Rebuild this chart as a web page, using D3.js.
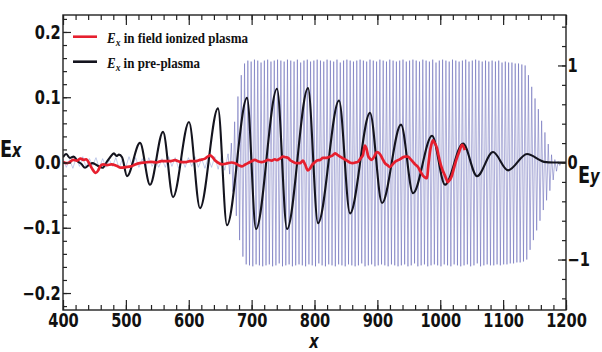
<!DOCTYPE html>
<html><head><meta charset="utf-8">
<script src="https://cdn.jsdelivr.net/npm/d3@7"></script>
<style>body{margin:0;background:#fff}svg{display:block}</style>
</head><body><svg id="c" width="602" height="352"></svg>
<script>
// ---------- data ----------
const xTicks = [400, 500, 600, 700, 800, 900, 1000, 1100, 1200];
const xTickLabels = ["400", "500", "600", "700", "800", "900", "1000", "1100", "1200"];
const exTicks = [-0.2, -0.1, 0.0, 0.1, 0.2];
const exTickLabels = ["\u22120.2", "\u22120.1", "0.0", "0.1", "0.2"];
const eyTicks = [-1, 0, 1];
const eyTickLabels = ["\u22121", "0", "1"];
const seriesNames = ["field ionized plasma", "pre-plasma"];

// Ey (right axis) ahead of the pulse: small noise extrema, from x = 400 every 5.25
const eyPreX0 = 400, eyPreStep = 5.25;
const eyPreValues = [
  0.04,-0.05,0.03,-0.06,0.05,-0.04,0.06,-0.05,0.04,-0.03,
  0.05,-0.06,0.04,-0.05,0.03,-0.04,0.05,-0.06,0.04,-0.05,
  0.06,-0.04,0.05,-0.05,0.04,-0.06,0.05,-0.04,0.03,-0.05,
  0.04,-0.05,0.06,-0.04,0.05,-0.06,0.04,-0.05,0.05,-0.04,
  0.06,-0.05,0.04,-0.06,0.05,-0.05,0.06,-0.07,0.07,-0.08,
  0.09
];
// Ey laser pulse: half-cycle extrema, from x = 662.5 every 2.625
const eyX0 = 662.5, eyStep = 2.625;
const eyValues = [
  0.09,-0.12,0.2,-0.3,0.42,-0.55,0.68,-0.8,0.9,-0.97,1.02,-1.05,
  1.05,-1.06,1.04,-1.07,1.06,-1.05,1.05,-1.06,1.03,-1.07,
  1.05,-1.06,1.06,-1.05,1.04,-1.07,1.05,-1.06,1.06,-1.04,
  1.05,-1.07,1.04,-1.06,1.06,-1.05,1.05,-1.07,1.04,-1.06,
  1.06,-1.05,1.03,-1.06,1.05,-1.07,1.06,-1.05,1.04,-1.06,
  1.05,-1.07,1.06,-1.04,1.05,-1.06,1.04,-1.07,1.06,-1.05,
  1.05,-1.06,1.04,-1.07,1.06,-1.05,1.03,-1.06,1.05,-1.07,
  1.06,-1.05,1.05,-1.06,1.04,-1.07,1.05,-1.06,1.06,-1.04,
  1.05,-1.07,1.04,-1.06,1.06,-1.05,1.05,-1.07,1.04,-1.06,
  1.06,-1.05,1.05,-1.06,1.04,-1.07,1.06,-1.05,1.05,-1.06,
  1.04,-1.07,1.05,-1.06,1.06,-1.05,1.04,-1.07,1.05,-1.06,
  1.06,-1.04,1.05,-1.07,1.04,-1.06,1.06,-1.05,1.05,-1.07,
  1.04,-1.06,1.06,-1.05,1.03,-1.06,1.05,-1.07,1.06,-1.05,
  1.05,-1.06,1.04,-1.07,1.06,-1.05,1.05,-1.06,1.04,-1.07,
  1.05,-1.06,1.06,-1.05,1.04,-1.07,1.05,-1.06,1.06,-1.04,
  1.05,-1.07,1.04,-1.06,1.05,-1.05,1.04,-1.06,1.05,-1.06,
  1.04,-1.05,1.05,-1.06,1.03,-1.05,1.04,-1.05,1.03,-1.04,
  1.03,-1.04,1.02,-1.03,1.02,-1.03,1.01,-1.02,
  1.0,-1.0,0.9,-0.9,0.78,-0.8,0.66,-0.7,0.55,-0.6,0.43,-0.49,
  0.31,-0.39,0.19,-0.29,0.08,-0.18,0.03,-0.09,0.01,-0.03,0.0
];

// Ex in pre-plasma (black)
const blackX = [400,405,411,417,423,429,435,441,447,452,457,463,469,475,481,485,489,494,
  501.8,522.5,538.4,559.1,575.0,600.4,617.9,646.5,660.8,692.7,707.0,740.4,756.3,789.7,805.6,
  839.0,856.5,888.3,907.4,937.6,956.7,986.9,1007.6,1036.2,1058.5,1083.9,1107.8,1138.0,1165,1180,1200];
const blackY = [0.008,0.013,0.007,0.009,0.002,-0.002,-0.008,-0.004,-0.001,-0.003,-0.006,-0.008,0.0,0.008,0.014,0.010,0.012,0.008,
  -0.021,0.030,-0.034,0.047,-0.053,0.062,-0.070,0.083,-0.096,0.099,-0.102,0.113,-0.102,0.114,-0.093,
  0.095,-0.078,0.076,-0.062,0.058,-0.047,0.041,-0.034,0.029,-0.021,0.016,-0.012,0.013,0.001,0.0,0.0];

// Ex in field ionized plasma (red)
const redX = [400,405,410,416,422,428,433,437,442,446,452,456,459,464,470,477,485,492,500,508,515,522,530,540,549,556,
  562,570,578,586,594,602,610,618,626,630,634,638,642,648,653,658,662,668,673.5,679,684.7,690,694,700,705,710,716,721,726,
  732,737,740,745,750,754,758,762,766,771,777,781.7,785,789.6,793,796,800,804,809,813.5,819,824.6,829,832.6,836,840.5,846,
  851.6,856,861,865,869,873,877,880,883,885,888,891,895,899,904,908,912,916,920,924,928,934,939,944,948.6,952,956.6,960,
  964.6,968,972.5,976,979,981,983.6,986,988.4,991,994.8,997,999.6,1003,1007.5,1010,1012,1015,1018.6,1022,1026.6,1030,1035,1039];
const redY = [0.001,-0.001,0.0,0.004,0.003,0.006,0.004,0.005,-0.002,-0.009,-0.016,-0.012,-0.006,-0.003,-0.004,-0.003,-0.005,-0.008,-0.007,-0.006,-0.003,-0.001,0.0,0.001,0.0,0.002,
  0.002,0.002,0.0035,0.001,0.0005,0.002,0.002,0.004,0.006,0.009,0.011,0.008,0.003,-0.001,-0.003,-0.002,-0.001,0.0,-0.001,-0.004,-0.006,-0.003,-0.001,0.002,0.004,0.002,0.0005,0.002,0.004,
  0.003,0.005,0.0035,0.006,0.009,0.008,0.007,0.003,0.001,-0.001,-0.001,0.003,-0.003,-0.012,-0.009,-0.004,0.0,0.003,0.004,0.007,0.007,0.009,0.011,0.014,0.012,0.009,0.006,
  0.003,0.0,-0.001,0.0,0.001,0.006,0.011,0.026,0.020,0.011,0.006,0.004,0.009,0.016,0.013,0.006,-0.001,-0.004,-0.007,-0.003,0.001,0.004,0.007,0.009,0.009,0.006,0.001,-0.003,
  -0.007,-0.013,-0.020,-0.023,-0.024,-0.005,0.016,0.028,0.034,0.030,0.022,0.012,0.001,-0.010,-0.020,-0.026,-0.030,-0.027,-0.020,-0.008,0.007,0.016,0.027,0.019];

// ---------- drawing ----------
const svg = d3.select("#c");
const L = 63, R = 566, T = 15, B = 310;
const x = d3.scaleLinear().domain([400, 1200]).range([L, R]);
const yL = d3.scaleLinear().domain([-0.226, 0.226]).range([B, T]);
const yR = d3.scaleLinear().domain([-1.52, 1.52]).range([B, T]);

const RED = "#e61f2e", BLACK = "#14141e", BLUE = "#4f52ad";
const FONT = "'DejaVu Sans', sans-serif";
const SX = 0.77;

svg.append("rect").attr("width", 602).attr("height", 352).attr("fill", "#fff");
svg.append("defs").append("clipPath").attr("id", "clip")
  .append("rect").attr("x", L).attr("y", T).attr("width", R - L).attr("height", B - T);

const plot = svg.append("g").attr("clip-path", "url(#clip)");

const eyLine = d3.line().x(d => x(d[0])).y(d => yR(d[1]));
plot.append("path").datum(eyPreValues.map((v, i) => [eyPreX0 + i * eyPreStep, v]))
  .attr("d", eyLine).attr("fill", "none").attr("stroke", "#8fa2d8")
  .attr("stroke-width", 0.9).attr("stroke-opacity", 0.6);
plot.append("path").datum(eyValues.map((v, i) => [eyX0 + i * eyStep, v]))
  .attr("d", eyLine).attr("fill", "none").attr("stroke", BLUE)
  .attr("stroke-width", 0.75).attr("stroke-opacity", 0.62);

const blackData = blackX.map((v, i) => [v, blackY[i]]);
plot.append("path").datum(blackData)
  .attr("d", d3.line().x(d => x(d[0])).y(d => yL(d[1])).curve(d3.curveMonotoneX))
  .attr("fill", "none").attr("stroke", BLACK).attr("stroke-width", 2.1).attr("stroke-linejoin", "round");

const redData = redX.map((v, i) => [v, redY[i]]);
plot.append("path").datum(redData)
  .attr("d", d3.line().x(d => x(d[0])).y(d => yL(d[1])).curve(d3.curveMonotoneX))
  .attr("fill", "none").attr("stroke", RED).attr("stroke-width", 2.7).attr("stroke-linejoin", "round");

// axes
function styleAxis(g) {
  g.select(".domain").remove();
  g.selectAll("line").attr("stroke", "#222").attr("stroke-width", 1.2);
  g.selectAll("text").attr("font-family", FONT).attr("font-weight", "bold")
    .attr("font-size", 19).attr("fill", "#111").attr("transform", `scale(${SX},1)`);
}
const xMinor = d3.range(400, 1201, 20);
const exMinor = d3.range(-22, 23, 2).map(v => v / 100);
const eyMinor = d3.range(-14, 15, 2).map(v => v / 10);

svg.append("g").attr("transform", `translate(0,${B})`)
  .call(d3.axisBottom(x).tickValues(xMinor).tickSize(-5).tickFormat("")).call(styleAxis);
svg.append("g").attr("transform", `translate(0,${B})`)
  .call(d3.axisBottom(x).tickValues(xTicks).tickSize(-10).tickPadding(4).tickFormat((d, i) => xTickLabels[i])).call(styleAxis);
svg.append("g").attr("transform", `translate(0,${T})`)
  .call(d3.axisTop(x).tickValues(xMinor).tickSize(-5).tickFormat("")).call(styleAxis);
svg.append("g").attr("transform", `translate(0,${T})`)
  .call(d3.axisTop(x).tickValues(xTicks).tickSize(-10).tickFormat("")).call(styleAxis);

svg.append("g").attr("transform", `translate(${L},0)`)
  .call(d3.axisLeft(yL).tickValues(exMinor).tickSize(-4).tickFormat("")).call(styleAxis);
svg.append("g").attr("transform", `translate(${L},0)`)
  .call(d3.axisLeft(yL).tickValues(exTicks).tickSize(-8).tickPadding(3).tickFormat((d, i) => exTickLabels[i])).call(styleAxis);

svg.append("g").attr("transform", `translate(${R},0)`)
  .call(d3.axisRight(yR).tickValues(eyMinor).tickSize(-4).tickFormat("")).call(styleAxis);
svg.append("g").attr("transform", `translate(${R},0)`)
  .call(d3.axisRight(yR).tickValues(eyTicks).tickSize(-8).tickPadding(2).tickFormat((d, i) => eyTickLabels[i])).call(styleAxis);

svg.append("rect").attr("x", L).attr("y", T).attr("width", R - L).attr("height", B - T)
  .attr("fill", "none").attr("stroke", "#222").attr("stroke-width", 1.4);

// axis titles
function axTitle(tx, ty, main, sub) {
  const t = svg.append("text").attr("transform", `translate(${tx},${ty}) scale(${SX},1)`)
    .attr("font-family", FONT).attr("font-weight", "bold").attr("fill", "#111");
  t.append("tspan").attr("font-size", 23).text(main);
  t.append("tspan").attr("font-size", 19).attr("font-style", "italic").text(sub);
  return t;
}
axTitle(0, 157, "E", "x");
axTitle(578, 183, "E", "y");
svg.append("text").attr("transform", `translate(314,348) scale(${SX},1)`)
  .attr("font-family", FONT).attr("font-weight", "bold").attr("font-style", "italic")
  .attr("font-size", 19).attr("text-anchor", "middle").attr("fill", "#111").text("x");

// legend
const legendRows = [
  { color: RED, y: 36.7, name: seriesNames[0], w: 141 },
  { color: BLACK, y: 61.7, name: seriesNames[1], w: 93 }
];
legendRows.forEach(r => {
  svg.append("line").attr("x1", 73).attr("x2", 97).attr("y1", r.y).attr("y2", r.y)
    .attr("stroke", r.color).attr("stroke-width", 2.6);
  const t = svg.append("text").attr("transform", `translate(107,${r.y + 6})`)
    .attr("font-family", "'Liberation Serif', serif").attr("font-weight", "bold")
    .attr("font-size", 15).attr("fill", "#111");
  t.append("tspan").attr("font-style", "italic").text("E");
  t.append("tspan").attr("font-style", "italic").attr("font-size", 11).attr("dy", 3).text("x");
  t.append("tspan").attr("dy", -3).text(" in " + r.name);
  const w = t.node().getComputedTextLength();
  t.attr("transform", `translate(107,${r.y + 6}) scale(${r.w / w},1)`);
});
</script>
</body></html>
